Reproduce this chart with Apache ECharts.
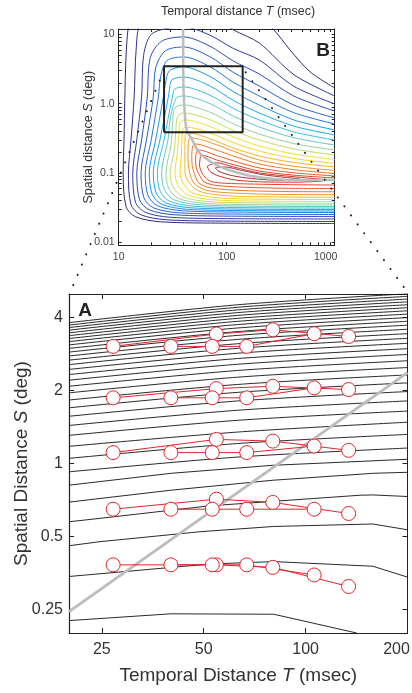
<!DOCTYPE html>
<html>
<head>
<meta charset="utf-8">
<script src="https://cdn.jsdelivr.net/npm/echarts@6/dist/echarts.min.js"></script>
<style>
  html, body { margin: 0; padding: 0; background: #fff; }
  #chart { width: 412px; height: 693px; }
</style>
</head>
<body>
<div id="chart"></div>
<script>
// ---------- panel B : sensitivity contours, T (msec) vs S (deg) ----------
const bXTicks = [10, 100, 1000]
const bXMinor = [20, 30, 40, 50, 60, 70, 80, 90, 200, 300, 400, 500, 600, 700, 800, 900]
const bYTicks = [0.01, 0.1, 1, 10]
const bYTickLabels = ['0.01', '0.1', '1.0', '10']
const bYMinor = [0.02, 0.03, 0.04, 0.05, 0.06, 0.07, 0.08, 0.09, 0.2, 0.3, 0.4, 0.5, 0.6, 0.7, 0.8, 0.9, 2, 3, 4, 5, 6, 7, 8, 9]

// contour levels, outermost first: [T, S] points
const bContours = [
  [[1000,1.687],[590,2.9],[385,6.0],[268,12],[150,25],[70,38],[40,40],[20,35],[13,20],[12.2,12],[11.7,5],[11.4,1.25],[11.2,0.3],[11.0,0.1],[11.7,0.0326],[14.3,0.0233],[24.2,0.0197],[100,0.0188],[1000,0.0186]],
  [[1000,1.293],[420,2.62],[200,7.54],[115,11.7],[70,19.5],[40,26.7],[25,24],[16,15],[14.5,6],[13.9,1.25],[13.0,0.3],[12.3,0.1],[13.0,0.0348],[16.0,0.0249],[27.1,0.0211],[110,0.0201],[1000,0.0199]],
  [[1000,0.991],[420,1.78],[200,4.29],[115,6.29],[70,9.76],[40,12.85],[30,12.5],[20,10],[17,5],[16.3,1.25],[14.7,0.3],[13.5,0.1],[14.3,0.0378],[17.6,0.027],[29.7,0.0229],[120,0.0218],[1000,0.0216]],
  [[1000,0.785],[420,1.285],[200,2.69],[115,4.14],[70,6.77],[40,9.21],[25,8.0],[19.5,4.5],[18.4,1.25],[16.3,0.3],[14.7,0.1],[15.6,0.0411],[19.1,0.0294],[32.3,0.0249],[130,0.0237],[1000,0.0235]],
  [[1000,0.622],[420,0.952],[200,1.804],[115,2.84],[70,4.77],[40,6.6],[27,5.8],[22,3.3],[20.9,1.25],[18.1,0.3],[16.1,0.1],[17.1,0.0439],[20.9,0.0314],[35.4,0.0266],[140,0.0254],[1000,0.0251]],
  [[1000,0.51],[420,0.739],[200,1.293],[115,2.04],[70,3.42],[40,4.73],[28,4.2],[24.5,2.5],[23.3,1.25],[20.0,0.3],[17.6,0.1],[18.7,0.0469],[22.9,0.0335],[38.7,0.0284],[150,0.0271],[1000,0.0268]],
  [[1000,0.417],[420,0.582],[200,0.959],[115,1.492],[70,2.47],[40,3.4],[29.5,3.0],[27,1.9],[25.9,1.25],[22.0,0.3],[19.2,0.1],[20.4,0.0494],[25.0,0.0353],[42.2,0.0299],[160,0.0285],[1000,0.0282]],
  [[1000,0.353],[420,0.4735],[200,0.735],[115,1.117],[70,1.804],[40,2.43],[31,2.2],[29.5,1.6],[28.8,1.25],[24.1,0.3],[20.9,0.1],[22.2,0.0518],[27.2,0.037],[46.0,0.0314],[170,0.0299],[1000,0.0296]],
  [[1000,0.299],[420,0.3906],[200,0.582],[115,0.855],[70,1.326],[40,1.745],[33,1.62],[31.4,1.25],[26.3,0.3],[22.8,0.1],[24.2,0.0544],[29.6,0.0389],[50.2,0.033],[180,0.0314],[1000,0.0311]],
  [[1000,0.253],[420,0.322],[200,0.461],[115,0.662],[70,1.0],[40,1.293],[34,1.2],[30,0.6],[28.6,0.3],[25.0,0.1],[26.5,0.0572],[32.5,0.0409],[55.0,0.0347],[190,0.033],[1000,0.0327]],
  [[1000,0.2145],[420,0.2654],[200,0.365],[115,0.512],[70,0.753],[40,0.959],[33,0.86],[31.5,0.5],[30.5,0.25],[27.4,0.1],[29.0,0.0602],[35.6,0.043],[60.3,0.0365],[200,0.0347],[1000,0.0344]],
  [[1000,0.1816],[420,0.2217],[200,0.299],[115,0.41],[70,0.587],[40,0.735],[35,0.65],[33.8,0.4],[32.5,0.2],[29.9,0.1],[31.7,0.0637],[38.9,0.0455],[65.8,0.0386],[210,0.0368],[1000,0.0364]],
  [[1000,0.1563],[420,0.1871],[200,0.245],[115,0.3317],[70,0.469],[41,0.582],[37,0.53],[36,0.35],[35,0.2],[33.2,0.1],[35.2,0.0677],[43.2,0.0484],[73,0.041],[220,0.0391],[1000,0.0387]],
  [[1000,0.1369],[420,0.1616],[200,0.2074],[115,0.2744],[70,0.3777],[42,0.461],[39,0.42],[38.5,0.3],[38,0.18],[37,0.1],[39.2,0.0723],[48.1,0.0516],[81.4,0.0438],[240,0.0417],[1000,0.0413]],
  [[1000,0.1218],[420,0.1411],[200,0.1757],[115,0.2296],[70,0.3119],[44.5,0.378],[41.5,0.35],[41,0.25],[41,0.16],[41.1,0.1],[43.6,0.078],[53.4,0.0558],[90.4,0.0473],[260,0.045],[1000,0.0446]],
  [[1000,0.1084],[420,0.1247],[200,0.1537],[115,0.2061],[80,0.2566],[47,0.32],[44.5,0.3],[43.8,0.2],[44,0.14],[45.5,0.1],[50,0.07],[65,0.056],[120,0.051],[300,0.049],[1000,0.0485]],
  [[1000,0.0981],[420,0.1113],[200,0.1346],[115,0.1757],[80,0.2145],[51,0.262],[48.5,0.245],[47.5,0.17],[48,0.125],[50.5,0.095],[55,0.072],[70,0.061],[130,0.056],[300,0.054],[1000,0.0534]],
  [[1000,0.0903],[420,0.1004],[200,0.1179],[115,0.1497],[80,0.1792],[55,0.2145],[52.5,0.2],[51.5,0.145],[53,0.11],[57,0.088],[62,0.074],[80,0.066],[150,0.062],[350,0.06],[1000,0.0594]],
  [[1000,0.0845],[420,0.0927],[200,0.1066],[115,0.1319],[80,0.1547],[58,0.1816],[57,0.17],[56,0.13],[59,0.1],[65,0.083],[72,0.075],[95,0.071],[180,0.069],[400,0.0675],[1000,0.0669]],
  [[66,0.125],[80,0.14],[115,0.122],[200,0.1],[420,0.088],[750,0.081],[850,0.079],[700,0.0755],[400,0.0735],[200,0.0745],[120,0.079],[85,0.09],[70,0.105],[66,0.125]],
  [[78,0.118],[95,0.122],[140,0.108],[220,0.094],[350,0.086],[480,0.081],[420,0.078],[280,0.0785],[170,0.083],[110,0.092],[85,0.105],[78,0.118]]
]
const bColors = ['#2e2a78', '#30308a', '#2f3ca0', '#2c4cb8', '#2860cc', '#2276dc', '#1c90e8',
  '#1eaae8', '#34c0e0', '#64c8c4', '#96d29c', '#c4da68', '#ece03a', '#fbd222', '#f9b428',
  '#f69428', '#f27628', '#ec5a28', '#e24430', '#cc3430', '#a83030']

// optimal-speed curve and zoom box
const bOptimal = [[39.5,12],[39.7,2],[41,0.7],[42.6,0.42],[48,0.3],[56.6,0.192],[86.7,0.123],[153,0.0934],[250,0.083],[414,0.079],[1000,0.079]]
const boxT = [26.3, 140.6]
const boxS = [0.386, 3.47]

// ---------- panel A : zoomed contours and data ----------
const aXTicks = [25, 50, 100, 200]
const aYTicks = [0.25, 0.5, 1, 2, 4]
const aLineT = [20, 63, 200]
const aUpperS = [
  [3.808, 4.514, 5.010], [3.722, 4.408, 4.889], [3.635, 4.299, 4.765], [3.547, 4.190, 4.641],
  [3.458, 4.080, 4.515], [3.367, 3.968, 4.389], [3.276, 3.857, 4.262], [3.181, 3.740, 4.131],
  [3.084, 3.621, 3.996], [2.983, 3.499, 3.859], [2.880, 3.375, 3.719], [2.776, 3.249, 3.577],
  [2.668, 3.118, 3.431], [2.557, 2.985, 3.282], [2.443, 2.849, 3.131], [2.326, 2.709, 2.975],
  [2.206, 2.566, 2.816], [2.082, 2.419, 2.653], [1.956, 2.270, 2.487], [1.827, 2.118, 2.319],
  [1.697, 1.965, 2.150], [1.566, 1.811, 1.980], [1.435, 1.658, 1.812], [1.306, 1.507, 1.645],
  [1.177, 1.348, 1.480], [1.050, 1.209, 1.318], [0.924, 1.063, 1.158]
]
const aLowerLines = [
  [[20,0.814],[40,0.911],[80,0.983],[200,1.041]],
  [[20,0.693],[40,0.776],[80,0.853],[158,0.911],[200,0.920]],
  [[20,0.575],[24.7,0.594],[52,0.669],[145,0.740],[158,0.742],[200,0.731]],
  [[20,0.458],[24.7,0.476],[48.7,0.523],[80.5,0.550],[158,0.563],[200,0.533]],
  [[20,0.342],[24.7,0.351],[52,0.385],[80.5,0.394],[158,0.377],[200,0.340]],
  [[20,0.225],[40,0.240],[80.5,0.239],[141.6,0.2]]
]
const aOptimal = [[20, 0.245], [200, 2.37]]

// measured points: two interleaved sequences per spatial row
const seqATimes = [27, 54.5, 80, 134]
const seqBTimes = [40, 53, 67, 106]
const seqARows = [
  [3.04, 3.42, 3.56, 3.34],
  [1.866, 2.037, 2.082, 2.018],
  [1.109, 1.257, 1.237, 1.133],
  [0.648, 0.713, 0.691, 0.622],
  [0.382, 0.382, 0.373, 0.311]
]
const seqBRows = [
  [3.04, 3.04, 3.04, 3.43],
  [1.866, 1.866, 1.866, 2.051],
  [1.109, 1.109, 1.109, 1.180],
  [0.648, 0.648, 0.648, 0.648],
  [0.382, 0.382, 0.382, 0.347]
]

const FONT = '"Liberation Sans", Arial, sans-serif'
const lg = v => Math.log10(v)
const toXY = pts => pts.map(p => [lg(p[0]), lg(p[1])])
const near = (list, v) => list.findIndex(t => Math.abs(lg(t) - v) < 1e-6)

function baseAxis(gridIndex, min, max, position) {
  return {
    type: 'value',
    gridIndex: gridIndex,
    min: lg(min),
    max: lg(max),
    position: position,
    splitLine: { show: false },
    axisLine: { show: true, onZero: false, lineStyle: { color: '#222', width: 1 } },
    axisTick: { show: false },
    axisLabel: { show: false }
  }
}

// the last label of an axis sits a little inside the frame
function edgeLabel(last) {
  return v => {
    const t = Math.round(Math.pow(10, v))
    return t === last ? '{r|' + t + '}' : String(t)
  }
}

const xAxes = [
  // B bottom
  Object.assign(baseAxis(0, 10, 1000, 'bottom'), {
    axisTick: { show: true, inside: true, length: 3, customValues: bXTicks.concat(bXMinor).map(lg), lineStyle: { color: '#222' } },
    axisLabel: { show: true, customValues: bXTicks.map(lg), margin: 6, fontSize: 10.5, color: '#444', fontFamily: FONT,
      formatter: edgeLabel(1000),
      rich: { r: { fontSize: 10.5, color: '#444', fontFamily: FONT, padding: [0, 18, 0, 0] } } }
  }),
  // B top
  Object.assign(baseAxis(0, 10, 1000, 'top'), {
    axisTick: { show: true, inside: true, length: 3, customValues: bXTicks.concat(bXMinor).map(lg), lineStyle: { color: '#222' } }
  }),
  // A bottom
  Object.assign(baseAxis(1, 20, 200, 'bottom'), {
    axisLine: { show: true, onZero: false, lineStyle: { color: '#222', width: 1.2 } },
    axisTick: { show: true, inside: true, length: 5, customValues: aXTicks.map(lg), lineStyle: { color: '#222' } },
    axisLabel: { show: true, customValues: aXTicks.map(lg), margin: 9, fontSize: 16, color: '#333', fontFamily: FONT,
      formatter: edgeLabel(200),
      rich: { r: { fontSize: 16, color: '#333', fontFamily: FONT, padding: [0, 22, 0, 0] } } },
    name: 'Temporal Distance {i|T} (msec)',
    nameLocation: 'middle',
    nameGap: 33,
    nameMoveOverlap: false,
    nameTextStyle: { fontSize: 19, color: '#333', fontFamily: FONT,
      rich: { i: { fontSize: 19, color: '#333', fontStyle: 'italic', fontFamily: FONT } } }
  }),
  // A top
  Object.assign(baseAxis(1, 20, 200, 'top'), {
    axisTick: { show: true, inside: true, length: 5, customValues: aXTicks.map(lg), lineStyle: { color: '#222' } }
  })
]

const yAxes = [
  // B left
  Object.assign(baseAxis(0, 0.009, 12, 'left'), {
    axisTick: { show: true, inside: true, length: 3, customValues: bYTicks.concat(bYMinor).map(lg), lineStyle: { color: '#222' } },
    axisLabel: { show: true, customValues: bYTicks.map(lg), margin: 4, fontSize: 10.5, color: '#444', fontFamily: FONT,
      formatter: v => bYTickLabels[near(bYTicks, v)] },
    name: 'Spatial distance {i|S} (deg)',
    nameLocation: 'middle',
    nameGap: 24,
    nameMoveOverlap: false,
    nameTextStyle: { fontSize: 12.5, color: '#333', fontFamily: FONT,
      rich: { i: { fontSize: 12.5, color: '#333', fontStyle: 'italic', fontFamily: FONT } } }
  }),
  // B right
  Object.assign(baseAxis(0, 0.009, 12, 'right'), {
    axisTick: { show: true, inside: true, length: 3, customValues: bYTicks.concat(bYMinor).map(lg), lineStyle: { color: '#222' } }
  }),
  // A left
  Object.assign(baseAxis(1, 0.2, 5, 'left'), {
    axisLine: { show: true, onZero: false, lineStyle: { color: '#222', width: 1.2 } },
    axisTick: { show: true, inside: true, length: 5, customValues: aYTicks.map(lg), lineStyle: { color: '#222' } },
    axisLabel: { show: true, customValues: aYTicks.map(lg), margin: 6, fontSize: 16, color: '#333', fontFamily: FONT,
      formatter: v => String(aYTicks[near(aYTicks, v)]) },
    name: 'Spatial Distance {i|S} (deg)',
    nameLocation: 'middle',
    nameGap: 38,
    nameMoveOverlap: false,
    nameTextStyle: { fontSize: 19, color: '#333', fontFamily: FONT,
      rich: { i: { fontSize: 19, color: '#333', fontStyle: 'italic', fontFamily: FONT } } }
  }),
  // A right
  Object.assign(baseAxis(1, 0.2, 5, 'right'), {
    axisTick: { show: true, inside: true, length: 5, customValues: aYTicks.map(lg), lineStyle: { color: '#222' } }
  })
]

const series = []
bContours.forEach((pts, i) => {
  series.push({
    type: 'line', xAxisIndex: 0, yAxisIndex: 0, data: toXY(pts),
    symbol: 'none', smooth: 0.3, silent: true, z: 2,
    lineStyle: { color: bColors[i], width: 1 }
  })
})
series.push({
  type: 'line', xAxisIndex: 0, yAxisIndex: 0, data: toXY(bOptimal),
  symbol: 'none', smooth: 0.3, silent: true, z: 3,
  lineStyle: { color: '#bdbdbd', width: 2.5 }
})
series.push({
  type: 'line', xAxisIndex: 0, yAxisIndex: 0,
  data: toXY([[boxT[0], boxS[0]], [boxT[0], boxS[1]], [boxT[1], boxS[1]], [boxT[1], boxS[0]], [boxT[0], boxS[0]]]),
  symbol: 'none', silent: true, z: 4,
  lineStyle: { color: '#222', width: 2 }
})

aUpperS.forEach(row => {
  series.push({
    type: 'line', xAxisIndex: 2, yAxisIndex: 2, data: toXY(aLineT.map((t, j) => [t, row[j]])),
    symbol: 'none', smooth: 0.3, silent: true, z: 2,
    lineStyle: { color: '#111', width: 0.9 }
  })
})
aLowerLines.forEach(pts => {
  series.push({
    type: 'line', xAxisIndex: 2, yAxisIndex: 2, data: toXY(pts),
    symbol: 'none', silent: true, z: 2,
    lineStyle: { color: '#111', width: 0.9 }
  })
})
series.push({
  type: 'line', xAxisIndex: 2, yAxisIndex: 2, data: toXY(aOptimal),
  symbol: 'none', silent: true, z: 3,
  lineStyle: { color: '#bdbdbd', width: 3 }
})

function addSeq(times, rows) {
  rows.forEach(row => {
    series.push({
      type: 'line', xAxisIndex: 2, yAxisIndex: 2, data: toXY(times.map((t, j) => [t, row[j]])),
      symbol: 'circle', symbolSize: 14, showSymbol: true, silent: true, z: 5,
      itemStyle: { color: '#fff', borderColor: '#e8222a', borderWidth: 1 },
      lineStyle: { color: '#e8222a', width: 1 }
    })
  })
}
addSeq(seqATimes, seqARows)
addSeq(seqBTimes, seqBRows)

const chart = echarts.init(document.getElementById('chart'), null, { renderer: 'canvas' })
chart.setOption({
  animation: false,
  backgroundColor: '#fff',
  grid: [
    { left: 118.7, top: 29, width: 216, height: 216.3, outerBoundsMode: 'none' },
    { left: 69, top: 294, width: 338.5, height: 339, outerBoundsMode: 'none' }
  ],
  xAxis: xAxes,
  yAxis: yAxes,
  series: series
})

// labels and the dotted guides linking the zoom box to panel A
const boxTL = chart.convertToPixel({ gridIndex: 0 }, [lg(boxT[0]), lg(boxS[1])])
const boxTR = chart.convertToPixel({ gridIndex: 0 }, [lg(boxT[1]), lg(boxS[1])])
const aTL = chart.convertToPixel({ gridIndex: 1 }, [lg(20), lg(5)])
const aTR = chart.convertToPixel({ gridIndex: 1 }, [lg(200), lg(5)])
const dotStyle = { stroke: '#222', lineWidth: 2, lineDash: [0.1, 11], lineCap: 'round' }

chart.setOption({
  graphic: [
    { type: 'line', z: 100, shape: { x1: boxTL[0], y1: boxTL[1] + 4, x2: aTL[0] + 3, y2: aTL[1] - 6 }, style: dotStyle },
    { type: 'line', z: 100, shape: { x1: boxTR[0] + 3, y1: boxTR[1] + 6, x2: aTR[0] - 3, y2: aTR[1] - 6 }, style: dotStyle },
    { type: 'text', z: 100, x: 238, y: 12,
      style: { text: 'Temporal distance {i|T} (msec)', fill: '#333', font: '12.5px ' + FONT, align: 'center', verticalAlign: 'middle',
        rich: { i: { fontStyle: 'italic', fontSize: 12.5, fontFamily: FONT, fill: '#333' } } } },
    { type: 'text', z: 100, x: 323, y: 51,
      style: { text: 'B', fill: '#222', font: 'bold 19px ' + FONT, align: 'center', verticalAlign: 'middle' } },
    { type: 'text', z: 100, x: 85, y: 311,
      style: { text: 'A', fill: '#222', font: 'bold 19px ' + FONT, align: 'center', verticalAlign: 'middle' } }
  ]
})

window.addEventListener('resize', () => { chart.resize() })
</script>
</body>
</html>
